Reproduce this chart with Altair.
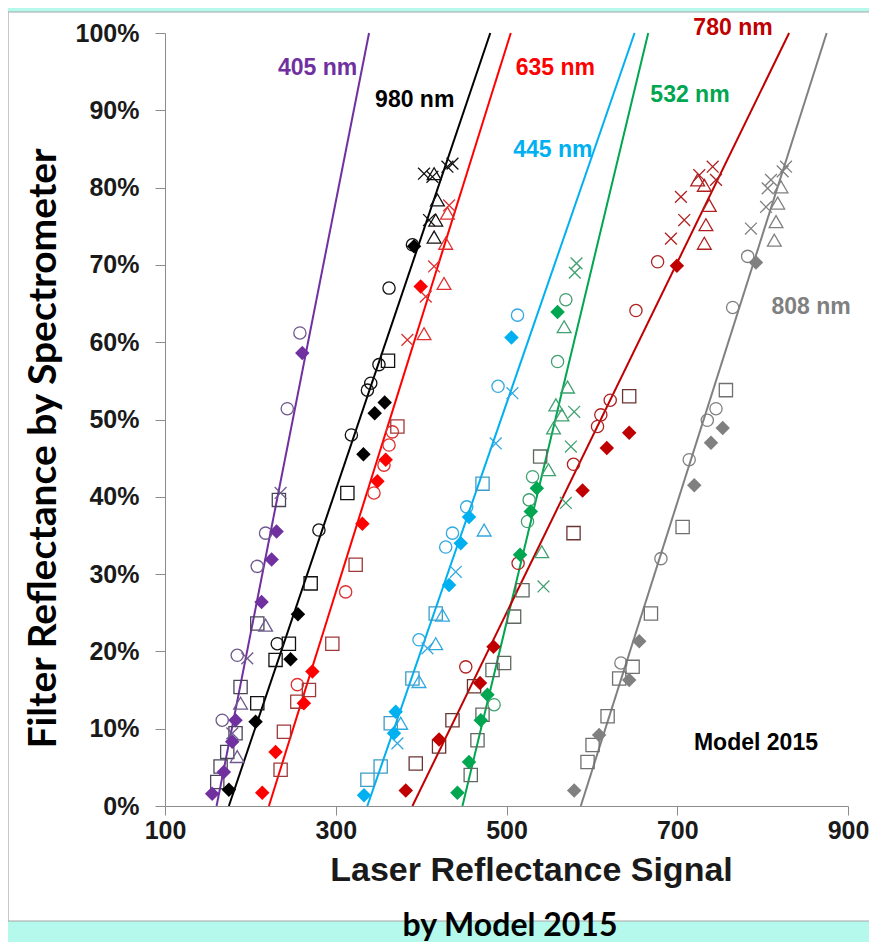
import altair as alt
import pandas as pd

# ---------------- data ----------------
GROUPS = ["405 nm", "980 nm", "635 nm", "445 nm", "532 nm", "780 nm", "808 nm"]
# fitted lines: signal at 0 % and at 100 %
LINE_X0 = [160.4, 174.8, 221.7, 337.0, 448.4, 389.8, 587.0]
LINE_X1 = [339.0, 481.0, 505.0, 650.0, 666.0, 831.0, 875.0]
LINE_Y0 = [0, 0, 0, 0, 0, 0, 0]
LINE_Y1 = [100, 100, 100, 100, 100, 100, 100]

# filled diamonds
DIA_G = (["405 nm"] * 8 + ["980 nm"] * 8 + ["635 nm"] * 8 + ["445 nm"] * 7
         + ["532 nm"] * 8 + ["780 nm"] * 8 + ["808 nm"] * 8)
DIA_X = [155.3, 168.9, 178.8, 182.6, 213.1, 224.9, 230.7, 260.8,
         174.8, 206.1, 247.1, 255.7, 332.4, 345.6, 357.3, 391.7,
         213.9, 229.5, 262.7, 272.6, 331.2, 348.8, 358.5, 399.5,
         333.1, 368.2, 370.2, 432.7, 446.4, 456.1, 505.8,
         442.5, 456.1, 469.9, 477.7, 515.9, 528.5, 535.5, 559.8,
         382.0, 421.0, 469.0, 484.8, 589.1, 617.5, 643.7, 699.6,
         579.3, 608.5, 643.7, 655.5, 719.9, 739.5, 753.2, 792.2]
DIA_Y = [1.6, 4.4, 8.3, 11.1, 26.4, 31.9, 35.5, 58.6,
         2.1, 10.9, 19.0, 24.8, 45.5, 50.8, 52.2, 72.4,
         1.7, 7.0, 13.3, 17.4, 36.5, 42.0, 44.8, 67.2,
         1.4, 9.4, 12.2, 28.6, 34.0, 37.4, 60.6,
         1.7, 5.7, 11.1, 14.4, 32.5, 38.1, 41.1, 63.9,
         2.0, 8.6, 15.9, 20.6, 40.8, 46.3, 48.3, 69.9,
         2.0, 9.2, 16.3, 21.3, 41.5, 47.0, 48.9, 70.3]

# open circles
CIR_G = (["405 nm"] * 6 + ["980 nm"] * 8 + ["635 nm"] * 6 + ["445 nm"] * 6
         + ["532 nm"] * 6 + ["780 nm"] * 8 + ["808 nm"] * 7)
CIR_X = [258.0, 243.2, 217.8, 208.0, 184.6, 167.0,
         231.5, 280.3, 318.3, 337.1, 341.0, 350.6, 362.4, 389.8,
         255.0, 311.6, 344.8, 356.5, 362.4, 366.3,
         397.5, 428.8, 436.7, 453.4, 490.1, 512.9,
         485.5, 524.6, 526.5, 530.5, 559.8, 569.5,
         452.3, 513.6, 578.5, 606.6, 610.5, 621.5, 651.6, 677.0,
         634.0, 680.9, 714.0, 735.2, 745.4, 764.9, 782.5]
CIR_Y = [61.2, 51.4, 35.3, 31.0, 19.5, 11.1,
         21.0, 35.7, 48.0, 53.8, 54.7, 57.1, 67.0, 72.6,
         15.7, 27.7, 40.5, 44.1, 46.7, 48.4,
         21.5, 33.5, 35.3, 38.7, 54.3, 63.5,
         13.1, 36.8, 39.6, 42.6, 57.5, 65.5,
         18.0, 31.4, 44.2, 49.1, 50.6, 52.5, 64.1, 70.4,
         18.5, 32.0, 44.8, 49.9, 51.4, 64.5, 71.1]

# open squares
SQU_G = (["405 nm"] * 7 + ["980 nm"] * 6 + ["635 nm"] * 7 + ["445 nm"] * 6
         + ["532 nm"] * 8 + ["780 nm"] * 6 + ["808 nm"] * 8)
SQU_X = [233.4, 208.1, 188.5, 182.6, 172.9, 165.1, 161.2,
         229.5, 245.1, 208.1, 270.6, 313.6, 361.2,
         235.4, 239.3, 255.0, 268.6, 296.0, 323.3, 372.2,
         337.1, 352.6, 364.4, 389.8, 417.1, 471.9,
         458.1, 466.0, 471.9, 483.6, 497.2, 508.9, 518.7, 539.4,
         393.7, 421.0, 436.7, 462.0, 578.5, 643.7,
         594.9, 600.8, 618.4, 632.0, 647.7, 669.2, 706.3, 757.0]
SQU_Y = [39.6, 23.6, 15.4, 9.4, 7.0, 5.1, 3.1,
         18.9, 21.0, 13.3, 28.8, 40.5, 57.6,
         4.7, 9.6, 13.5, 15.0, 21.0, 31.2, 49.1,
         3.4, 5.1, 10.7, 16.5, 24.9, 41.7,
         4.0, 8.5, 11.8, 17.6, 18.5, 24.5, 27.9, 45.2,
         5.5, 7.7, 11.1, 15.5, 35.3, 53.0,
         5.7, 7.9, 11.6, 16.5, 18.0, 24.9, 36.1, 53.8]

# open triangles
TRI_G = (["405 nm"] * 3 + ["980 nm"] * 4 + ["635 nm"] * 4 + ["445 nm"] * 5
         + ["532 nm"] * 7 + ["780 nm"] * 5 + ["808 nm"] * 4)
TRI_X = [217.8, 188.5, 184.6,
         415.2, 419.1, 417.1, 415.2,
         403.4, 426.8, 428.8, 430.8,
         376.1, 397.5, 417.1, 425.0, 473.8,
         541.3, 549.2, 555.1, 564.9, 557.8, 571.5, 567.5,
         731.7, 733.6, 737.5, 723.9, 731.7,
         813.7, 815.7, 817.7, 821.5]
TRI_Y = [23.4, 13.3, 6.4,
         81.8, 78.4, 75.8, 73.6,
         61.1, 67.6, 72.8, 76.7,
         10.7, 16.1, 21.0, 24.7, 35.7,
         32.9, 43.5, 48.9, 50.6, 51.9, 54.2, 62.0,
         72.8, 75.2, 77.7, 81.0, 80.3,
         73.2, 75.6, 78.0, 80.1]

# crosses
CRO_G = (["405 nm"] * 3 + ["980 nm"] * 5 + ["635 nm"] * 4 + ["445 nm"] * 5
         + ["532 nm"] * 6 + ["780 nm"] * 6 + ["808 nm"] * 6)
CRO_X = [235.4, 196.4, 178.8,
         403.4, 413.2, 430.8, 436.7, 409.3,
         383.9, 405.4, 415.2, 432.8,
         372.2, 407.4, 440.6, 487.4, 506.9,
         543.3, 569.5, 575.4, 579.3, 580.0, 582.0,
         692.6, 708.2, 704.3, 725.8, 745.4, 741.5,
         786.3, 804.0, 805.9, 809.8, 823.5, 827.4]
CRO_Y = [40.5, 19.1, 9.4,
         81.8, 81.4, 82.7, 83.1, 75.8,
         60.3, 65.9, 69.8, 77.7,
         8.1, 20.4, 30.3, 46.9, 53.4,
         28.4, 39.2, 46.5, 51.0, 69.0, 70.2,
         73.4, 75.8, 78.8, 81.6, 81.0, 82.7,
         74.7, 77.5, 79.9, 81.0, 82.1, 82.7]

# in-plot labels
LAB_TEXT = ["405 nm", "980 nm", "635 nm", "445 nm", "532 nm", "780 nm", "808 nm", "Model 2015"]
LAB_X = [278.8, 392.5, 557.2, 554.3, 714.9, 765.3, 856.7, 792.2]
LAB_Y = [95.5, 91.3, 95.5, 84.9, 92.0, 100.6, 64.6, 8.2]

X_TICKS = [100, 300, 500, 700, 900]
Y_TICKS = [0, 10, 20, 30, 40, 50, 60, 70, 80, 90, 100]

# ---------------- styles ----------------
LINE_COL = {"405 nm": "#7030a0", "980 nm": "#000000", "635 nm": "#ff0000",
            "445 nm": "#00b0f0", "532 nm": "#00a650", "780 nm": "#c00000",
            "808 nm": "#808080", "Model 2015": "#000000"}
OPEN_COL = {"405 nm": "#6e5a8c", "980 nm": "#111111", "635 nm": "#e03030",
            "445 nm": "#30a8e0", "532 nm": "#3fa070", "780 nm": "#b02020",
            "808 nm": "#808080"}
SQ_COL = {"405 nm": "#4a4458", "980 nm": "#111111", "635 nm": "#a03838",
          "445 nm": "#3a9cc8", "532 nm": "#606860", "780 nm": "#6a3434",
          "808 nm": "#707070"}
X_PATH = "M-1,-1L1,1M-1,1L1,-1"

FONT = "Liberation Sans"

# ---------------- tables ----------------
lines = pd.DataFrame({
    "group": GROUPS * 2,
    "x": LINE_X0 + LINE_X1,
    "y": LINE_Y0 + LINE_Y1,
})
lines["col"] = lines["group"].map(LINE_COL)

dia = pd.DataFrame({"group": DIA_G, "x": DIA_X, "y": DIA_Y})
dia["col"] = dia["group"].map(LINE_COL)

parts = []
for g, xs, ys, shp, size, cmap in [
    (CIR_G, CIR_X, CIR_Y, "circle", 150, OPEN_COL),
    (SQU_G, SQU_X, SQU_Y, "square", 175, SQ_COL),
    (TRI_G, TRI_X, TRI_Y, "triangle-up", 190, OPEN_COL),
    (CRO_G, CRO_X, CRO_Y, X_PATH, 140, OPEN_COL),
]:
    d = pd.DataFrame({"group": g, "x": xs, "y": ys})
    d["shape"] = shp
    d["size"] = size
    d["col"] = d["group"].map(cmap)
    parts.append(d)
opn = pd.concat(parts, ignore_index=True)

labs = pd.DataFrame({"text": LAB_TEXT, "x": LAB_X, "y": LAB_Y})
labs["col"] = labs["text"].map(LINE_COL)

# ---------------- scales/axes ----------------
xscale = alt.Scale(domain=[100, 900], nice=False, zero=False)
yscale = alt.Scale(domain=[0, 100], nice=False, zero=False)

xaxis = alt.Axis(values=X_TICKS, grid=False, domainColor="#8c8c8c", tickColor="#8c8c8c",
                 tickSize=9, labelFontSize=25, labelFont=FONT, labelFontWeight="bold",
                 labelColor="#1a1a1a", labelPadding=3, labelFlush=False, zindex=1,
                 title="Laser Reflectance Signal", titleFont=FONT, titleFontSize=34,
                 titleFontWeight="bold", titleColor="#1a1a1a", titleX=366, titleY=64,
                 titleBaseline="middle", titleAlign="center")
yaxis = alt.Axis(values=Y_TICKS, grid=False, domainColor="#8c8c8c", tickColor="#8c8c8c",
                 tickSize=10, labelFontSize=25, labelFont=FONT, labelFontWeight="bold",
                 labelColor="#1a1a1a", labelPadding=16, labelFlush=False, zindex=1,
                 labelExpr="datum.value + '%'",
                 title="Filter Reflectance by Spectrometer", titleFont="Lato",
                 titleFontSize=39, titleFontWeight="bold", titleColor="#000000",
                 titleX=-122, titleY=415, titleBaseline="middle", titleAlign="center",
                 titleAngle=270)

X = alt.X("x:Q", scale=xscale, axis=xaxis)
Y = alt.Y("y:Q", scale=yscale, axis=yaxis)
COLOR = alt.Color("col:N", scale=None)

panel = alt.Chart(pd.DataFrame({"a": [0]})).mark_rect(
    fill="white", stroke="#a6a6a6", strokeWidth=1.2
).encode(x=alt.value(-157), x2=alt.value(705), y=alt.value(-21), y2=alt.value(888))

line_layer = alt.Chart(lines).mark_line(strokeWidth=2).encode(
    x=X, y=Y, color=COLOR, detail="group:N")

open_layer = alt.Chart(opn).mark_point(filled=False, strokeWidth=1.3, opacity=1).encode(
    x=X, y=Y, color=COLOR,
    shape=alt.Shape("shape:N", scale=None),
    size=alt.Size("size:Q", scale=None))

dia_layer = alt.Chart(dia).mark_point(shape="diamond", filled=True, size=210, opacity=1).encode(
    x=X, y=Y, color=COLOR)

label_layer = alt.Chart(labs).mark_text(
    font=FONT, fontWeight="bold", fontSize=23, align="center", baseline="middle"
).encode(x=X, y=Y, text="text:N", color=COLOR)

sub_title = alt.Chart(pd.DataFrame({"t": ["by Model 2015"]})).mark_text(
    font="Lato", fontWeight="bold", fontSize=32, align="center", baseline="middle",
    color="#000000"
).encode(x=alt.value(345), y=alt.value(893), text="t:N")

chart = alt.layer(panel, line_layer, open_layer, dia_layer, label_layer, sub_title).properties(
    width=683, height=773,
    autosize=alt.AutoSizeParams(type="none"),
    padding={"left": 157, "top": 25, "right": 21, "bottom": 136},
    background="#b5f9ec",
).configure_view(stroke=None)

chart.save("out.html", embed_options={"renderer": "svg", "actions": False})
